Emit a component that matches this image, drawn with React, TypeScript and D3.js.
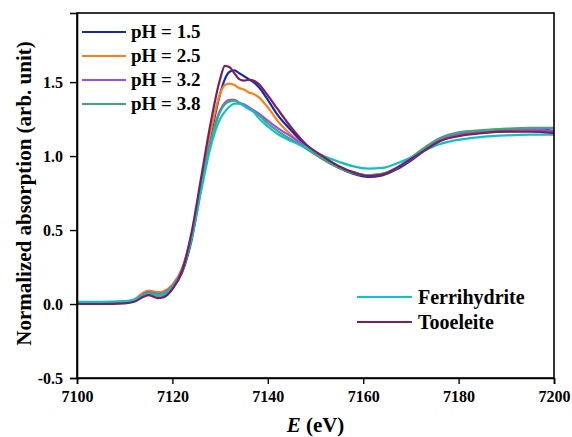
import React, { useEffect, useRef } from 'react';
import * as d3 from 'd3';

// photon energy grid (eV)
const energy = [7100, 7105, 7110, 7112, 7114, 7115, 7116, 7117, 7118, 7120, 7122, 7124, 7126, 7128, 7130, 7131, 7132, 7133, 7134, 7135, 7136, 7137, 7138, 7140, 7142, 7145, 7148, 7151, 7155, 7158, 7161, 7164, 7167, 7170, 7173, 7176, 7180, 7185, 7190, 7195, 7200];

const ph15 = [0.005, 0.005, 0.01, 0.02, 0.06, 0.075, 0.07, 0.065, 0.07, 0.11, 0.21, 0.43, 0.78, 1.13, 1.42, 1.52, 1.57, 1.58, 1.56, 1.54, 1.52, 1.5, 1.47, 1.38, 1.28, 1.17, 1.07, 1.0, 0.92, 0.88, 0.86, 0.87, 0.91, 0.97, 1.04, 1.1, 1.14, 1.16, 1.17, 1.18, 1.17];
const ph25 = [0.01, 0.01, 0.015, 0.03, 0.08, 0.09, 0.085, 0.08, 0.085, 0.13, 0.24, 0.47, 0.82, 1.16, 1.42, 1.48, 1.49, 1.48, 1.46, 1.45, 1.43, 1.42, 1.4, 1.33, 1.24, 1.14, 1.06, 1.0, 0.93, 0.89, 0.87, 0.88, 0.92, 0.98, 1.04, 1.1, 1.14, 1.16, 1.165, 1.17, 1.16];
const ph32 = [0.01, 0.01, 0.015, 0.025, 0.07, 0.08, 0.075, 0.07, 0.075, 0.12, 0.23, 0.46, 0.8, 1.1, 1.31, 1.36, 1.38, 1.38, 1.36, 1.35, 1.33, 1.31, 1.29, 1.24, 1.19, 1.13, 1.06, 0.99, 0.92, 0.89, 0.87, 0.88, 0.92, 0.98, 1.05, 1.11, 1.15, 1.17, 1.18, 1.18, 1.165];
const ph38 = [0.01, 0.01, 0.015, 0.025, 0.065, 0.075, 0.07, 0.065, 0.07, 0.115, 0.225, 0.45, 0.79, 1.09, 1.3, 1.35, 1.37, 1.375, 1.36, 1.34, 1.32, 1.3, 1.28, 1.22, 1.17, 1.11, 1.05, 0.99, 0.92, 0.885, 0.87, 0.88, 0.92, 0.99, 1.06, 1.12, 1.16, 1.175, 1.185, 1.19, 1.19];
const ferrihydrite = [0.015, 0.015, 0.02, 0.03, 0.06, 0.065, 0.06, 0.055, 0.06, 0.11, 0.22, 0.44, 0.76, 1.06, 1.25, 1.3, 1.335, 1.355, 1.355, 1.34, 1.32, 1.3, 1.26, 1.2, 1.15, 1.1, 1.06, 1.01, 0.96, 0.93, 0.915, 0.92, 0.95, 0.99, 1.04, 1.08, 1.11, 1.13, 1.14, 1.145, 1.145];
const tooeleite = [0.0, 0.0, 0.005, 0.015, 0.05, 0.06, 0.05, 0.04, 0.045, 0.1, 0.22, 0.48, 0.85, 1.22, 1.52, 1.61, 1.6, 1.56, 1.52, 1.51, 1.515, 1.51, 1.49, 1.41, 1.32, 1.19, 1.08, 1.01, 0.93, 0.89, 0.865, 0.875, 0.92, 0.98, 1.04, 1.1, 1.135, 1.155, 1.165, 1.165, 1.155];

const xTicks = [7100, 7120, 7140, 7160, 7180, 7200];
const yTicks = [-0.5, 0.0, 0.5, 1.0, 1.5];

const series = [
  { name: 'pH = 1.5', values: ph15, color: '#1428b4' },
  { name: 'pH = 2.5', values: ph25, color: '#ff8010' },
  { name: 'pH = 3.2', values: ph32, color: '#9c4cf5' },
  { name: 'pH = 3.8', values: ph38, color: '#40a878' },
  { name: 'Ferrihydrite', values: ferrihydrite, color: '#10c0c8' },
  { name: 'Tooeleite', values: tooeleite, color: '#7a2060' },
];

export default function App() {
  const ref = useRef<SVGSVGElement>(null);

  useEffect(() => {
    const width = 572;
    const height = 437;
    const m = { left: 77, right: 18, top: 13, bottom: 59 };
    const svg = d3.select(ref.current);
    svg.selectAll('*').remove();

    const x = d3.scaleLinear().domain([7100, 7200]).range([m.left, width - m.right]);
    const y = d3.scaleLinear().domain([-0.5, 1.967]).range([height - m.bottom, m.top]);
    const font = 'Liberation Serif';

    const line = d3
      .line<number>()
      .x((d, i) => x(energy[i]))
      .y(d => y(d))
      .curve(d3.curveMonotoneX);

    svg
      .selectAll('path.series')
      .data(series)
      .enter()
      .append('path')
      .attr('class', 'series')
      .attr('d', d => line(d.values))
      .attr('fill', 'none')
      .attr('stroke', d => d.color)
      .attr('stroke-width', 2.2);

    // frame
    svg
      .append('rect')
      .attr('x', m.left)
      .attr('y', m.top)
      .attr('width', width - m.left - m.right)
      .attr('height', height - m.top - m.bottom)
      .attr('fill', 'none')
      .attr('stroke', '#000')
      .attr('stroke-width', 1.6);

    const xAxis = svg
      .append('g')
      .attr('transform', `translate(0,${height - m.bottom})`)
      .call(d3.axisBottom(x).tickValues(xTicks).tickSize(6).tickPadding(7).tickFormat(d3.format('d')));
    const yAxis = svg
      .append('g')
      .attr('transform', `translate(${m.left},0)`)
      .call(
        d3
          .axisLeft(y)
          .tickValues(yTicks)
          .tickSize(7)
          .tickPadding(7)
          .tickFormat(d => (+d).toFixed(1))
      );

    [xAxis, yAxis].forEach(g => {
      g.attr('font-family', font).attr('font-size', 16).attr('font-weight', 'bold');
      g.select('.domain').attr('stroke', '#000').attr('stroke-width', 1.6);
      g.selectAll('.tick line').attr('stroke', '#000').attr('stroke-width', 1.4);
      g.selectAll('.tick text').attr('fill', '#000');
    });

    // axis titles
    const xt = svg
      .append('text')
      .attr('x', (m.left + width - m.right) / 2)
      .attr('y', 432)
      .attr('text-anchor', 'middle')
      .attr('font-family', font)
      .attr('font-weight', 'bold')
      .attr('font-size', 21);
    xt.append('tspan').attr('font-style', 'italic').text('E');
    xt.append('tspan').text(' (eV)');

    svg
      .append('text')
      .attr('transform', `translate(31,${(m.top + height - m.bottom) / 2 - 2}) rotate(-90)`)
      .attr('text-anchor', 'middle')
      .attr('font-family', font)
      .attr('font-weight', 'bold')
      .attr('font-size', 21)
      .text('Normalized absorption (arb. unit)');

    // legends
    const legendA = series.slice(0, 4);
    const la = svg
      .selectAll('g.legA')
      .data(legendA)
      .enter()
      .append('g')
      .attr('transform', (d, i) => `translate(82,${32 + i * 24})`);
    la.append('line').attr('x1', 0).attr('x2', 44).attr('stroke', d => d.color).attr('stroke-width', 2.2);
    la.append('text')
      .attr('x', 49)
      .attr('y', 6)
      .attr('font-family', font)
      .attr('font-weight', 'bold')
      .attr('font-size', 19)
      .text(d => d.name);

    const legendB = series.slice(4);
    const lb = svg
      .selectAll('g.legB')
      .data(legendB)
      .enter()
      .append('g')
      .attr('transform', (d, i) => `translate(357,${297 + i * 25})`);
    lb.append('line').attr('x1', 0).attr('x2', 55).attr('stroke', d => d.color).attr('stroke-width', 2.2);
    lb.append('text')
      .attr('x', 61)
      .attr('y', 7)
      .attr('font-family', font)
      .attr('font-weight', 'bold')
      .attr('font-size', 20)
      .text(d => d.name);
  }, []);

  return (
    <svg
      ref={ref}
      width={572}
      height={437}
      style={{ position: 'absolute', left: 0, top: 0, background: '#fff' }}
    />
  );
}
